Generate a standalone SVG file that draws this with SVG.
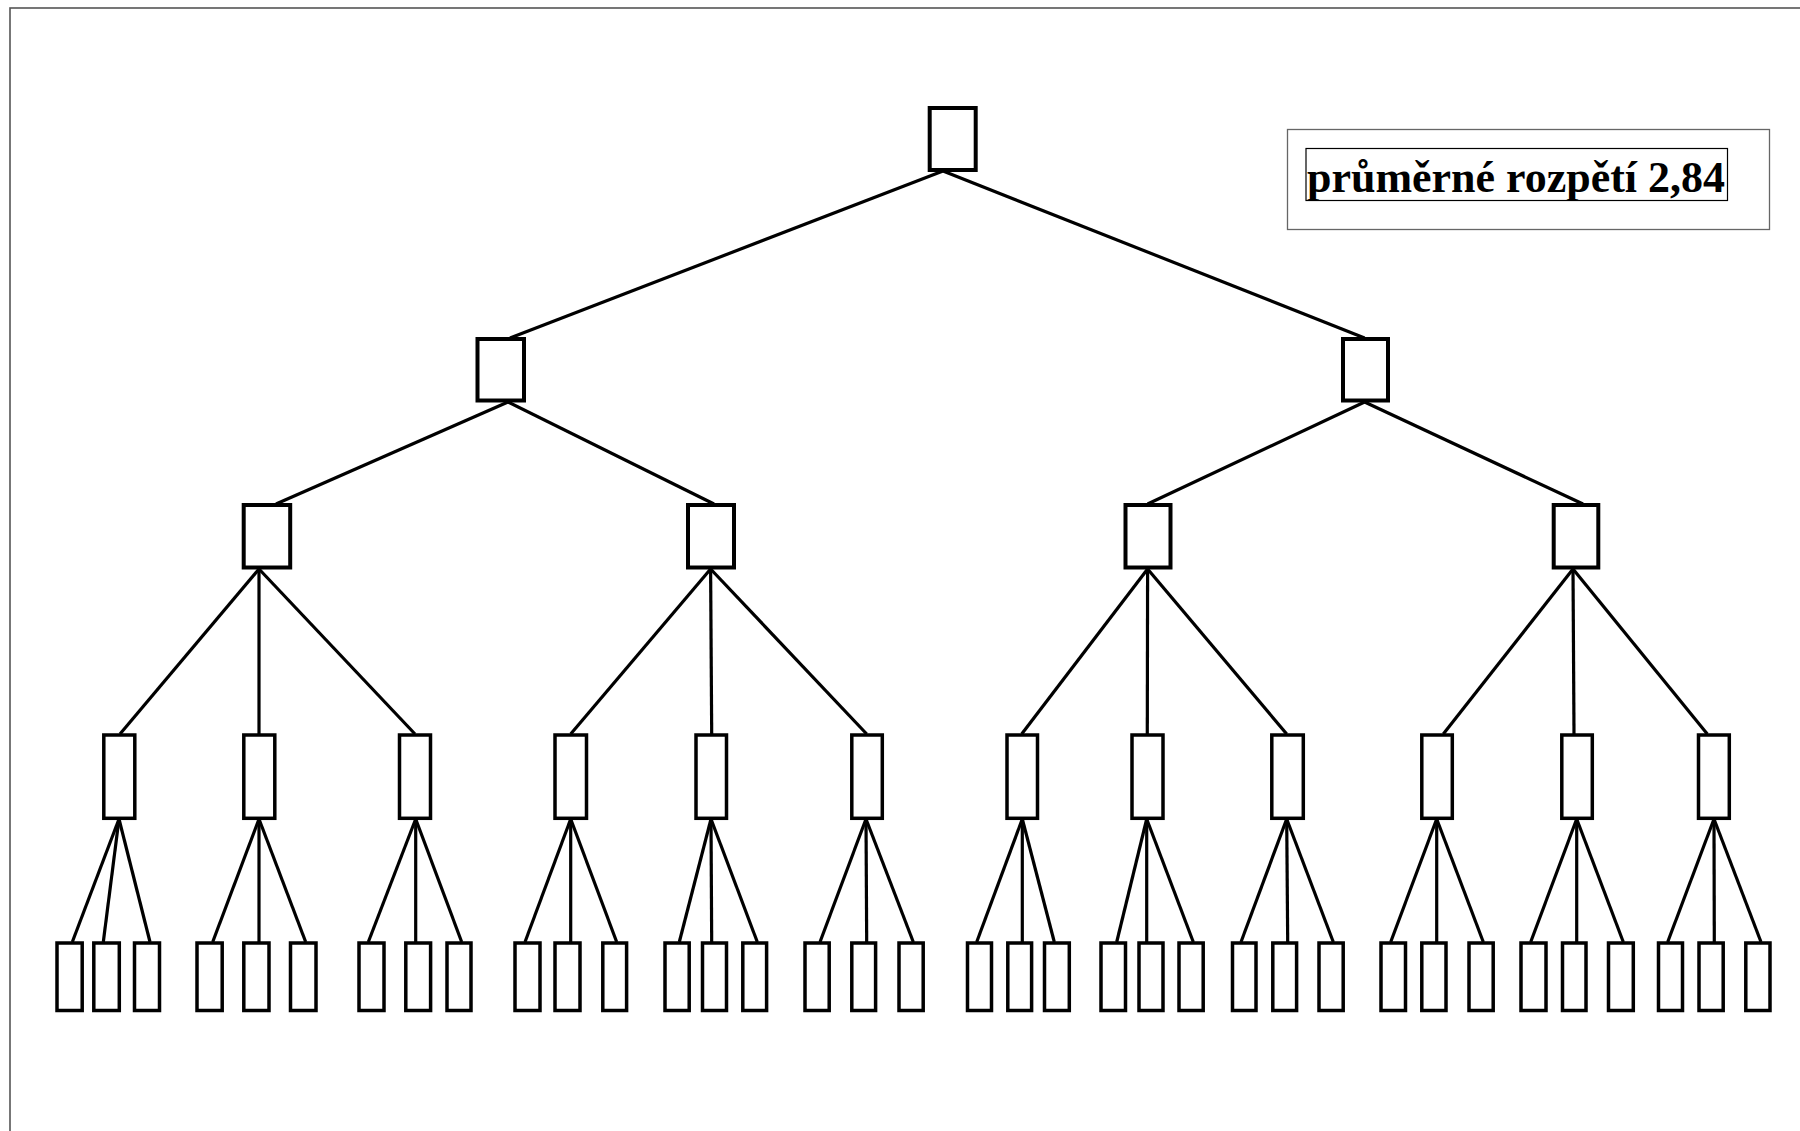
<svg xmlns="http://www.w3.org/2000/svg" width="1800" height="1131" viewBox="0 0 1800 1131">
<style>
.n{fill:#fff;stroke:#000;stroke-width:3.5}
.nb{fill:#fff;stroke:#000;stroke-width:4}
.c line{stroke:#000;stroke-width:3.2}
.lbl{font-family:"Liberation Serif","Times New Roman",serif;font-weight:bold;font-size:44px;fill:#000}
</style>
<rect width="1800" height="1131" fill="#fff"/>
<rect x="10" y="8" width="1800" height="1140" fill="none" stroke="#555" stroke-width="1.6"/>
<g id="legend">
<rect x="1287.5" y="129.5" width="482" height="100" fill="#fff" stroke="#666" stroke-width="1.3"/>
<rect x="1306" y="148.5" width="421.5" height="52" fill="none" stroke="#000" stroke-width="1.2"/>
<text class="lbl" x="1307" y="192" textLength="418" lengthAdjust="spacingAndGlyphs">průměrné rozpětí 2,84</text>
</g>
<g id="connectors" class="c">
<line x1="943" y1="171" x2="510" y2="338"/>
<line x1="943" y1="171" x2="1364.6" y2="338"/>
<line x1="508" y1="402" x2="276" y2="504"/>
<line x1="508" y1="402" x2="714" y2="504"/>
<line x1="1364.6" y1="402" x2="1147.6" y2="504"/>
<line x1="1364.6" y1="402" x2="1583" y2="504"/>
<line x1="259" y1="569" x2="120" y2="734"/>
<line x1="259" y1="569" x2="259" y2="734"/>
<line x1="259" y1="569" x2="415" y2="734"/>
<line x1="710.6" y1="569" x2="570.7" y2="734"/>
<line x1="710.6" y1="569" x2="711.7" y2="734"/>
<line x1="710.6" y1="569" x2="866.7" y2="734"/>
<line x1="1147.6" y1="569" x2="1021.7" y2="734"/>
<line x1="1147.6" y1="569" x2="1147.3" y2="734"/>
<line x1="1147.6" y1="569" x2="1286.7" y2="734"/>
<line x1="1573" y1="569" x2="1443.3" y2="734"/>
<line x1="1573" y1="569" x2="1574" y2="734"/>
<line x1="1573" y1="569" x2="1707.3" y2="734"/>
<line x1="119" y1="819" x2="72.3" y2="942"/>
<line x1="119" y1="819" x2="103.3" y2="942"/>
<line x1="119" y1="819" x2="150" y2="942"/>
<line x1="259" y1="819" x2="212.7" y2="942"/>
<line x1="259" y1="819" x2="259" y2="942"/>
<line x1="259" y1="819" x2="305.7" y2="942"/>
<line x1="415.7" y1="819" x2="368.3" y2="942"/>
<line x1="415.7" y1="819" x2="415.7" y2="942"/>
<line x1="415.7" y1="819" x2="461.7" y2="942"/>
<line x1="570.7" y1="819" x2="525" y2="942"/>
<line x1="570.7" y1="819" x2="570.7" y2="942"/>
<line x1="570.7" y1="819" x2="616.7" y2="942"/>
<line x1="711" y1="819" x2="679.3" y2="942"/>
<line x1="711" y1="819" x2="711.7" y2="942"/>
<line x1="711" y1="819" x2="757.3" y2="942"/>
<line x1="866" y1="819" x2="820" y2="942"/>
<line x1="866" y1="819" x2="866.7" y2="942"/>
<line x1="866" y1="819" x2="913.3" y2="942"/>
<line x1="1022.3" y1="819" x2="976.7" y2="942"/>
<line x1="1022.3" y1="819" x2="1022.3" y2="942"/>
<line x1="1022.3" y1="819" x2="1054.3" y2="942"/>
<line x1="1146.7" y1="819" x2="1116.7" y2="942"/>
<line x1="1146.7" y1="819" x2="1146.7" y2="942"/>
<line x1="1146.7" y1="819" x2="1193.3" y2="942"/>
<line x1="1286.7" y1="819" x2="1241" y2="942"/>
<line x1="1286.7" y1="819" x2="1287.7" y2="942"/>
<line x1="1286.7" y1="819" x2="1333.3" y2="942"/>
<line x1="1436.7" y1="819" x2="1390.7" y2="942"/>
<line x1="1436.7" y1="819" x2="1436.7" y2="942"/>
<line x1="1436.7" y1="819" x2="1483.3" y2="942"/>
<line x1="1576.7" y1="819" x2="1530.7" y2="942"/>
<line x1="1576.7" y1="819" x2="1576.7" y2="942"/>
<line x1="1576.7" y1="819" x2="1623.3" y2="942"/>
<line x1="1714" y1="819" x2="1667.7" y2="942"/>
<line x1="1714" y1="819" x2="1714.3" y2="942"/>
<line x1="1714" y1="819" x2="1761" y2="942"/>
</g>
<g id="root"><rect class="nb" x="929.7" y="108" width="46" height="62"/></g>
<g id="n1"><rect class="nb" x="477.5" y="339" width="46.5" height="61.5"/></g>
<g id="n2"><rect class="nb" x="1343" y="339" width="45" height="61.5"/></g>
<g id="n11"><rect class="nb" x="243.7" y="505" width="46.5" height="62.5"/></g>
<g id="n12"><rect class="nb" x="688" y="505" width="46" height="62.5"/></g>
<g id="n21"><rect class="nb" x="1125.5" y="505" width="45" height="62.5"/></g>
<g id="n22"><rect class="nb" x="1553.7" y="505" width="44.6" height="62.5"/></g>
<g id="n111"><rect class="n" x="103.8" y="735" width="31" height="83.3"/></g>
<g id="n112"><rect class="n" x="243.8" y="735" width="31" height="83.3"/></g>
<g id="n113"><rect class="n" x="399.5" y="735" width="31" height="83.3"/></g>
<g id="n121"><rect class="n" x="555" y="735" width="31.5" height="83.3"/></g>
<g id="n122"><rect class="n" x="696" y="735" width="30.5" height="83.3"/></g>
<g id="n123"><rect class="n" x="851.8" y="735" width="30.5" height="83.3"/></g>
<g id="n211"><rect class="n" x="1007" y="735" width="30.5" height="83.3"/></g>
<g id="n212"><rect class="n" x="1132" y="735" width="31" height="83.3"/></g>
<g id="n213"><rect class="n" x="1271.8" y="735" width="31.5" height="83.3"/></g>
<g id="n221"><rect class="n" x="1421.8" y="735" width="30.5" height="83.3"/></g>
<g id="n222"><rect class="n" x="1561.8" y="735" width="30.5" height="83.3"/></g>
<g id="n223"><rect class="n" x="1698.5" y="735" width="30.8" height="83.3"/></g>
<g id="l1"><rect class="n" x="57" y="943" width="25.2" height="67.5"/></g>
<g id="l2"><rect class="n" x="93.8" y="943" width="25.5" height="67.5"/></g>
<g id="l3"><rect class="n" x="134.5" y="943" width="25" height="67.5"/></g>
<g id="l4"><rect class="n" x="197" y="943" width="25.2" height="67.5"/></g>
<g id="l5"><rect class="n" x="243.8" y="943" width="25.2" height="67.5"/></g>
<g id="l6"><rect class="n" x="290.5" y="943" width="25.5" height="67.5"/></g>
<g id="l7"><rect class="n" x="359" y="943" width="25" height="67.5"/></g>
<g id="l8"><rect class="n" x="405.8" y="943" width="24.8" height="67.5"/></g>
<g id="l9"><rect class="n" x="447" y="943" width="24" height="67.5"/></g>
<g id="l10"><rect class="n" x="515" y="943" width="25" height="67.5"/></g>
<g id="l11"><rect class="n" x="555" y="943" width="25" height="67.5"/></g>
<g id="l12"><rect class="n" x="602.8" y="943" width="23.8" height="67.5"/></g>
<g id="l13"><rect class="n" x="665" y="943" width="24.2" height="67.5"/></g>
<g id="l14"><rect class="n" x="702.5" y="943" width="24" height="67.5"/></g>
<g id="l15"><rect class="n" x="742.8" y="943" width="23.8" height="67.5"/></g>
<g id="l16"><rect class="n" x="805" y="943" width="24.2" height="67.5"/></g>
<g id="l17"><rect class="n" x="851.8" y="943" width="23.8" height="67.5"/></g>
<g id="l18"><rect class="n" x="899" y="943" width="24.2" height="67.5"/></g>
<g id="l19"><rect class="n" x="967.5" y="943" width="24" height="67.5"/></g>
<g id="l20"><rect class="n" x="1007.8" y="943" width="23.8" height="67.5"/></g>
<g id="l21"><rect class="n" x="1044.5" y="943" width="24.8" height="67.5"/></g>
<g id="l22"><rect class="n" x="1101" y="943" width="24.5" height="67.5"/></g>
<g id="l23"><rect class="n" x="1139" y="943" width="24" height="67.5"/></g>
<g id="l24"><rect class="n" x="1179" y="943" width="24.2" height="67.5"/></g>
<g id="l25"><rect class="n" x="1232.5" y="943" width="23.5" height="67.5"/></g>
<g id="l26"><rect class="n" x="1272.8" y="943" width="23.8" height="67.5"/></g>
<g id="l27"><rect class="n" x="1319" y="943" width="24.2" height="67.5"/></g>
<g id="l28"><rect class="n" x="1381" y="943" width="24.5" height="67.5"/></g>
<g id="l29"><rect class="n" x="1421.8" y="943" width="24.2" height="67.5"/></g>
<g id="l30"><rect class="n" x="1469" y="943" width="24.2" height="67.5"/></g>
<g id="l31"><rect class="n" x="1521" y="943" width="25" height="67.5"/></g>
<g id="l32"><rect class="n" x="1562.5" y="943" width="23.5" height="67.5"/></g>
<g id="l33"><rect class="n" x="1608.5" y="943" width="24.8" height="67.5"/></g>
<g id="l34"><rect class="n" x="1658.5" y="943" width="24" height="67.5"/></g>
<g id="l35"><rect class="n" x="1699" y="943" width="24.2" height="67.5"/></g>
<g id="l36"><rect class="n" x="1745.8" y="943" width="24.2" height="67.5"/></g>
</svg>
